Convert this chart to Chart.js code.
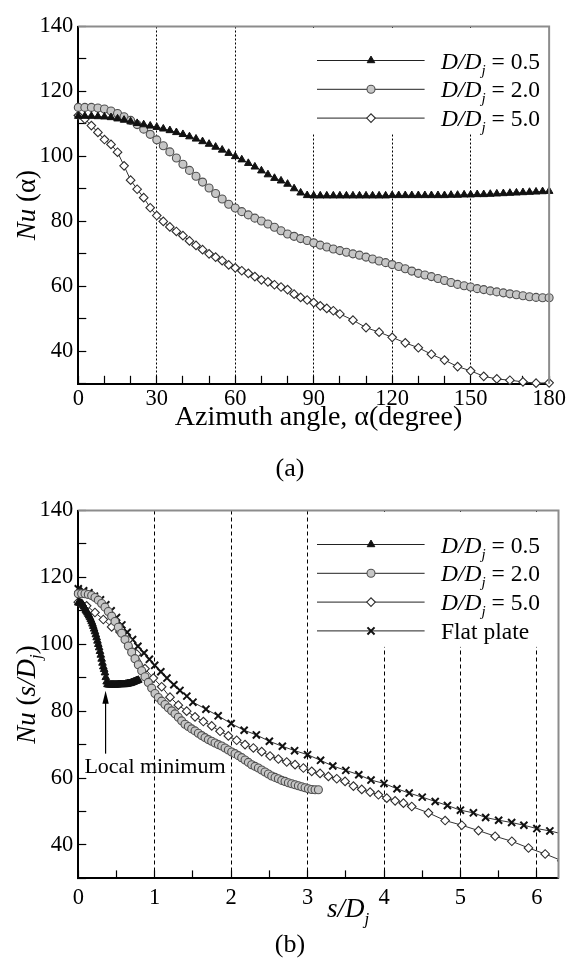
<!DOCTYPE html>
<html><head><meta charset="utf-8">
<script src="https://cdn.jsdelivr.net/npm/chart.js@4/dist/chart.umd.min.js"></script>
<style>
html,body{margin:0;padding:0;background:#fff;}
#wrap{position:relative;width:576px;height:968px;overflow:hidden;}
canvas{position:absolute;left:0;}
</style></head><body>
<div id="wrap">
<canvas id="ca" width="576" height="484" style="top:0;width:576px;height:484px"></canvas>
<canvas id="cb" width="576" height="484" style="top:484px;width:576px;height:484px"></canvas>
</div>
<script>
// ---------------- data ----------------
const alphaFine = [0,2.5,5,7.5,10,12.5,15,17.5,20,22.5,25,27.5,30,32.5,35,37.5,40,42.5,45,47.5,50,52.5,55,57.5,60,62.5,65,67.5,70,72.5,75,77.5,80,82.5,85,87.5,90,92.5,95,97.5,100,102.5,105,107.5,110,112.5,115,117.5,120,122.5,125,127.5,130,132.5,135,137.5,140,142.5,145,147.5,150,152.5,155,157.5,160,162.5,165,167.5,170,172.5,175,177.5,180];
const alphaD5 = [0,2.5,5,7.5,10,12.5,15,17.5,20,22.5,25,27.5,30,32.5,35,37.5,40,42.5,45,47.5,50,52.5,55,57.5,60,62.5,65,67.5,70,72.5,75,77.5,80,82.5,85,87.5,90,92.5,95,97.5,100,105,110,115,120,125,130,135,140,145,150,155,160,165,170,175,180];
const nuD05 = [112.4,112.4,112.4,112.3,112.2,112.0,111.6,111.2,110.7,110.2,
  109.8,109.4,109.0,108.5,108.0,107.4,106.8,106.1,105.4,104.6,
  103.8,102.9,102.0,101.0,100.0,99.0,97.9,96.8,95.6,94.4,
  93.3,92.5,91.5,90.1,88.8,88.0,87.9,87.9,87.9,87.9,
  87.9,87.9,87.9,87.9,87.9,87.9,87.9,87.9,88.0,88.0,
  88.0,88.0,88.0,88.0,88.0,88.0,88.0,88.1,88.1,88.2,
  88.2,88.3,88.3,88.4,88.5,88.6,88.7,88.8,88.9,89.0,
  89.1,89.2,89.3];
const nuD20 = [115.1,115.1,115.1,114.9,114.6,114.0,113.2,112.2,111.1,109.8,
  108.4,106.8,105.1,103.3,101.4,99.5,97.6,95.7,93.9,92.1,
  90.3,88.6,86.9,85.3,84.1,83.0,82.0,81.0,80.1,79.2,
  78.2,77.1,76.1,75.4,74.7,74.1,73.4,72.7,72.1,71.5,
  71.0,70.5,70.0,69.6,69.0,68.4,67.8,67.3,66.7,66.1,
  65.4,64.7,64.0,63.5,63.0,62.4,61.8,61.2,60.6,60.2,
  59.8,59.3,59.0,58.6,58.3,58.0,57.7,57.4,57.1,56.8,
  56.6,56.5,56.5];
const nuD50 = [112.6,111.5,109.5,107.4,105.2,103.7,101.3,97.1,92.7,89.9,
  87.3,84.2,81.8,80.0,78.3,76.9,75.6,74.0,72.6,71.3,
  70.0,69.0,67.9,66.6,65.7,64.8,64.0,63.0,62.0,61.4,
  60.5,59.8,59.0,57.6,56.6,55.8,55.0,54.0,53.2,52.5,
  51.5,
  49.6,47.3,45.9,44.3,42.6,41.1,39.1,37.3,35.3,34.0,
  32.3,31.5,31.1,30.6,30.2,30.3];
const sFlat = [0,0.07,0.14,0.21,0.29,0.36,0.43,0.50,0.57,0.64,
  0.71,0.78,0.86,0.93,1.00,1.08,1.16,1.25,1.33,1.42,
  1.50,1.67,1.83,2.00,2.17,2.33,2.50,2.67,2.83,3.00,
  3.17,3.33,3.50,3.67,3.83,4.00,4.17,4.33,4.50,4.67,
  4.83,5.00,5.17,5.33,5.50,5.67,5.83,6.00,6.17,6.33];
const nuFlat = [116.6,116.0,115.4,114.4,113.3,111.8,110.0,108.0,105.8,103.6,
  101.4,99.4,97.4,95.5,93.7,91.8,89.9,87.9,86.2,84.5,
  82.7,80.6,78.6,76.3,74.3,72.9,71.0,69.5,68.2,67.0,
  65.3,63.6,62.3,61.0,59.4,58.4,56.8,55.5,54.3,53.0,
  51.8,50.4,49.6,48.2,47.4,46.7,45.9,44.9,44.2,43.3];
const diamRatios = [0.5, 2.0, 5.0];            // D/Dj of each cylinder
const seriesLabels = ['D/Dj = 0.5','D/Dj = 2.0','D/Dj = 5.0','Flat plate'];
const xTickLabelsA = [0,30,60,90,120,150,180];
const xTickLabelsB = [0,1,2,3,4,5,6];
const yTickLabels = [40,60,80,100,120,140];

// ---------------- helpers ----------------
const F = '"Liberation Serif","Times New Roman",serif';
Chart.defaults.font.family = F;
Chart.defaults.color = '#000';
function fnt(sz, it){ return (it ? 'italic ' : '') + sz + 'px ' + F; }
function richWidth(ctx, parts){ let w = 0; for (const p of parts){ ctx.font = fnt(p.size, p.it); w += ctx.measureText(p.t).width; } return w; }
function drawRich(ctx, x, y, parts, align){
  const w = richWidth(ctx, parts);
  let cx = align === 'center' ? x - w/2 : x;
  ctx.textAlign = 'left'; ctx.textBaseline = 'alphabetic'; ctx.fillStyle = '#000';
  for (const p of parts){ ctx.font = fnt(p.size, p.it); ctx.fillText(p.t, cx, y + (p.dy || 0)); cx += ctx.measureText(p.t).width; }
}
function legendParts(label){
  if (label.indexOf('D/Dj') === 0){
    return [{t:'D/D', it:true, size:23.5},{t:'j', it:true, size:15, dy:6},{t:label.slice(4), size:23.5}];
  }
  return [{t:label, size:23.5}];
}
const pts = (xs, ys, f) => xs.map((v, i) => ({x: f ? f(v) : v, y: ys[i]}));
const toS = r => a => a * Math.PI / 180 * r / 2;

const styles = [
  {pointStyle:'triangle', pointRadius:4.4, pointBackgroundColor:'#111', pointBorderColor:'#111', pointBorderWidth:1},
  {pointStyle:'circle', pointRadius:4.0, pointBackgroundColor:'#c6c6c6', pointBorderColor:'#505050', pointBorderWidth:1.1},
  {pointStyle:'rectRot', pointRadius:4.3, pointBackgroundColor:'#fff', pointBorderColor:'#2e2e2e', pointBorderWidth:1.1},
  {pointStyle:'crossRot', pointRadius:5.0, pointBackgroundColor:'#111', pointBorderColor:'#111', pointBorderWidth:2}
];
function mkds(i, data){
  return Object.assign({label: seriesLabels[i], data, showLine:true, borderColor:'#333', borderWidth:1, tension:0,
    pointHoverRadius:0}, styles[i]);
}

const deco = {
  id: 'deco',
  afterDraw(chart, args, o){
    const ctx = chart.ctx, ca = chart.chartArea;
    const xs = chart.scales.x, ys = chart.scales.y;
    const n = chart.data.datasets.length;
    ctx.save();
    // legend box (white background hides grid lines)
    const lx = ca.left + 233.7;
    const y0 = ca.top + 34, dy = 28.8;
    const bb = y0 + (n - 1) * dy + 16;
    ctx.fillStyle = '#fff';
    ctx.fillRect(lx, ca.top + 1.5, ca.right - 1.5 - lx, bb - ca.top - 1.5);
    chart.data.datasets.forEach((ds, i) => {
      const y = y0 + i * dy;
      ctx.strokeStyle = '#222'; ctx.lineWidth = 1; ctx.setLineDash([]);
      ctx.beginPath(); ctx.moveTo(ca.left + 238.7, y); ctx.lineTo(ca.left + 346.3, y); ctx.stroke();
      ctx.fillStyle = ds.pointBackgroundColor; ctx.strokeStyle = ds.pointBorderColor; ctx.lineWidth = ds.pointBorderWidth;
      Chart.helpers.drawPoint(ctx, {pointStyle: ds.pointStyle, radius: ds.pointRadius, rotation: 0, borderWidth: ds.pointBorderWidth}, ca.left + 292.7, y);
      drawRich(ctx, ca.left + 362.7, y + 8, legendParts(ds.label), 'left');
    });
    // frame top / right
    ctx.strokeStyle = '#8c8c8c'; ctx.lineWidth = 2;
    ctx.beginPath(); ctx.moveTo(ca.left, ca.top); ctx.lineTo(ca.right, ca.top); ctx.lineTo(ca.right, ca.bottom); ctx.stroke();
    // y title (rotated)
    ctx.save();
    ctx.translate(26, (ca.top + ca.bottom) / 2);
    ctx.rotate(-Math.PI / 2);
    drawRich(ctx, 0, 9, o.yTitle, 'center');
    ctx.restore();
    // x title
    drawRich(ctx, o.xTitleX, o.xTitleY, o.xTitle, o.xTitleAlign);
    // panel tag
    drawRich(ctx, 290, o.tagY, [{t:o.tag, size:26}], 'center');
    // annotation
    if (o.annot){
      const a = o.annot;
      const ax = xs.getPixelForValue(a.arrowS);
      const yb = ys.getPixelForValue(a.arrowFrom), yt = ys.getPixelForValue(a.arrowTo);
      ctx.strokeStyle = '#000'; ctx.lineWidth = 1.2;
      ctx.beginPath(); ctx.moveTo(ax, yb); ctx.lineTo(ax, yt + 10); ctx.stroke();
      ctx.fillStyle = '#000';
      ctx.beginPath(); ctx.moveTo(ax, yt); ctx.lineTo(ax - 3.2, yt + 13); ctx.lineTo(ax + 3.2, yt + 13); ctx.closePath(); ctx.fill();
      drawRich(ctx, xs.getPixelForValue(a.textS), ys.getPixelForValue(a.textNu), [{t:a.text, size:22}], 'left');
    }
    ctx.restore();
  }
};

function makeOptions(cfg){
  return {
    responsive:false, animation:false, events:[],
    layout:{padding:{top:cfg.padTop, right:17.5, left:0, bottom:0}},
    plugins:{legend:{display:false}, tooltip:{enabled:false}, deco:cfg.deco},
    scales:{
      x:{type:'linear', min:cfg.xmin, max:cfg.xmax,
        afterFit: s => { s.height = cfg.xh; },
        ticks:{stepSize:cfg.xstep, autoSkip:false, maxRotation:0, includeBounds:false, padding:cfg.xpad, color:'#000', font:{size:22.5, family:F},
          callback: v => cfg.xlabels.includes(v) ? String(v) : ''},
        grid:{color: c => (c.tick && c.tick.value > 0 && cfg.xlabels.includes(c.tick.value)) ? '#000' : 'rgba(0,0,0,0)',
          lineWidth:1, drawTicks:true, tickLength:-8, tickColor:'#000', tickWidth:1.2},
        border:{display:true, color:'#000', width:2, dash:cfg.dash}
      },
      y:{type:'linear', min:30, max:140,
        afterFit: s => { s.width = 78.3; },
        ticks:{stepSize:10, autoSkip:false, padding:13, color:'#000', font:{size:22.5, family:F},
          callback: v => yTickLabels.includes(v) ? String(v) : ''},
        grid:{color:'rgba(0,0,0,0)', drawTicks:true, tickLength:-8, tickColor:'#000', tickWidth:1.2},
        border:{display:true, color:'#000', width:2}
      }
    }
  };
}

// ---------------- chart (a) ----------------
const dsA = [
  mkds(0, pts(alphaFine, nuD05)),
  mkds(1, pts(alphaFine, nuD20)),
  mkds(2, pts(alphaD5, nuD50))
];
dsA.forEach(d => d.clip = 10);
new Chart(document.getElementById('ca'), {
  type:'scatter', data:{datasets:dsA}, plugins:[deco],
  options: makeOptions({padTop:15.3, xh:484-383.8, xmin:0, xmax:180, xstep:10, xpad:10, xlabels:xTickLabelsA, dash:[2,2],
    deco:{
      yTitle:[{t:'Nu', it:true, size:27},{t:' (\u03b1)', size:27}],
      xTitle:[{t:'Azimuth angle, \u03b1(degree)', size:28}], xTitleX:318.5, xTitleY:425, xTitleAlign:'center',
      tag:'(a)', tagY:476
    }})
});

// ---------------- chart (b) ----------------
const dsB = [
  mkds(0, pts(alphaFine, nuD05, toS(diamRatios[0]))),
  mkds(1, pts(alphaFine, nuD20, toS(diamRatios[1]))),
  mkds(2, pts(alphaD5, nuD50, toS(diamRatios[2]))),
  mkds(3, pts(sFlat, nuFlat))
];
dsB.forEach(d => d.clip = {left:10, top:10, right:0, bottom:10});
new Chart(document.getElementById('cb'), {
  type:'scatter', data:{datasets:dsB}, plugins:[deco],
  options: makeOptions({padTop:24.8, xh:484-394.4, xmin:0, xmax:2*Math.PI, xstep:0.5, xpad:14, xlabels:xTickLabelsB, dash:[4,3],
    deco:{
      yTitle:[{t:'Nu', it:true, size:27},{t:' (', size:27},{t:'s/D', it:true, size:27},{t:'j', it:true, size:17, dy:6},{t:')', size:27}],
      xTitle:[{t:'s/D', it:true, size:27},{t:'j', it:true, size:17, dy:7}], xTitleX:327, xTitleY:433, xTitleAlign:'left',
      tag:'(b)', tagY:468,
      annot:{text:'Local minimum', textS:0.08, textNu:61.4, arrowS:0.357, arrowFrom:67.3, arrowTo:86.1}
    }})
});
</script>
</body></html>
